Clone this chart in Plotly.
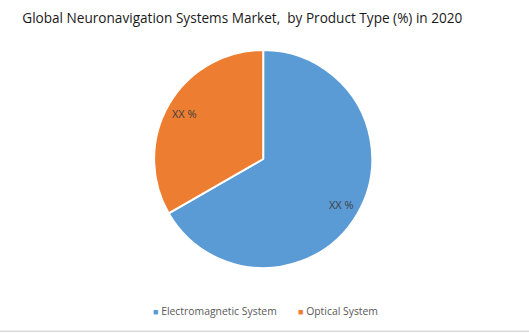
import math
import plotly.graph_objects as go

labels = ["Electromagnetic System", "Optical System"]
values = [66.7, 33.3]
text_labels = ["XX %", "XX %"]
colors = ["#5B9BD5", "#ED7D31"]

W, H = 529, 333
dom_x = [0, 0.995]
dom_y = [0.195, 0.85]
FONT = "Open Sans, Liberation Sans, sans-serif"

fig = go.Figure()
fig.add_trace(go.Pie(
    labels=labels,
    values=values,
    textinfo="none",
    marker=dict(colors=colors, line=dict(color="white", width=2)),
    sort=False,
    direction="clockwise",
    rotation=0,
    domain=dict(x=dom_x, y=dom_y),
    showlegend=False,
    hoverinfo="label+percent",
))

# data labels placed along each slice's mid-angle
radius_px = (dom_y[1] - dom_y[0]) * H / 2
cx, cy = (dom_x[0] + dom_x[1]) / 2, (dom_y[0] + dom_y[1]) / 2
total = sum(values)
cum = 0
annotations = []
for v, t in zip(values, text_labels):
    mid = (cum + v / 2) / total * 2 * math.pi
    cum += v
    r = radius_px * 0.83
    annotations.append(dict(
        x=cx + r * math.sin(mid) / W, y=cy + r * math.cos(mid) / H,
        xref="paper", yref="paper", text=t, showarrow=False,
        font=dict(family=FONT, size=11, color="#404040"),
    ))

# custom legend
legend_x = [0.285, 0.560]
for lab, col, lx in zip(labels, colors, legend_x):
    annotations.append(dict(
        x=lx, y=0.066, xref="paper", yref="paper", xanchor="left", yanchor="middle",
        text=f"<span style='color:{col}; font-size:9px'>■</span> {lab}", showarrow=False,
        font=dict(family=FONT, size=10.4, color="#595959"),
    ))

fig.update_layout(
    width=W, height=H,
    margin=dict(l=0, r=0, t=0, b=0),
    paper_bgcolor="white",
    plot_bgcolor="white",
    title=dict(
        text="Global Neuronavigation Systems Market,  by Product Type (%) in 2020",
        x=0.458, xanchor="center", y=0.945, yanchor="middle",
        font=dict(family=FONT, size=13.6, color="#1a1a1a"),
    ),
    annotations=annotations,
    shapes=[dict(type="line", xref="paper", yref="paper", x0=0, x1=1, y0=0.005, y1=0.005,
                 line=dict(color="#d9d9d9", width=1.5))],
)

fig.write_html("out.html")
